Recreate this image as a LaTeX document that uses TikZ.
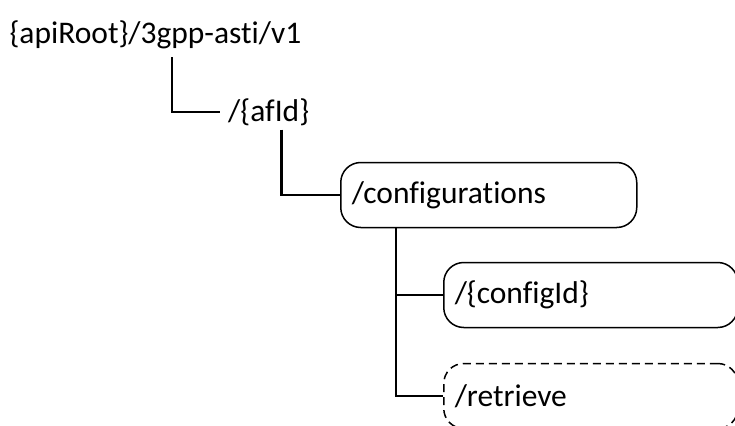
\documentclass[tikz,border=0pt]{standalone}
\usepackage{fontspec}
\setmainfont{Carlito}[Ligatures=NoCommon]
\usepackage{tikz}

\begin{document}
\begin{tikzpicture}[x=1pt, y=-1pt,
    label/.style={inner sep=2pt, font=\fontsize{31.5}{36}\selectfont},
    res/.style={draw, line width=1.5pt, rounded corners=20pt, minimum height=65pt,
      text width=274pt, inner xsep=11pt, align=left, font=\fontsize{31.5}{36}\selectfont},
    link/.style={line width=2.4pt}]
    \useasboundingbox (0,0) rectangle (735,425) ;
    \clip (0,0) rectangle (735,425) ;
    \node[label] at (155.5,35) (ROOT) {\{apiRoot\}/3gpp-asti/v1} ;
    \node[label, anchor=west] at (226,112) (AFID) {/\{afId\}} ;
    \node[res, anchor=west] at (340,195) (CONF) {/configurations} ;
    \node[res, anchor=west, text width=272pt] at (443,295) (CFGID) {/\{configId\}} ;
    \node[res, anchor=west, text width=272pt, dash pattern=on 8pt off 5pt] at (443,396) (RETR) {/retrieve} ;
    \draw[link, shorten <=6pt, shorten >=6pt] ([xshift=16.5pt]ROOT.south) |- (AFID.west) ;
    \draw[link, shorten <=2pt] ([xshift=13pt]AFID.south) |- (CONF.west) ;
    \draw[link] ([xshift=56pt]CONF.south west) |- (CFGID.west) ;
    \draw[link] ([xshift=56pt]CONF.south west) |- (RETR.west) ;
  \end{tikzpicture}
\end{document}
